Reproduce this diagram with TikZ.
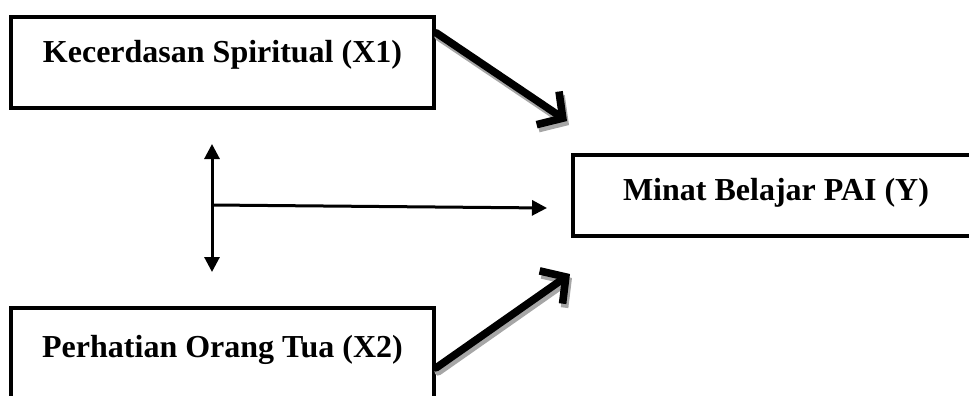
\documentclass[tikz,border=0pt]{standalone}
\usepackage{fontspec}
\setmainfont{Liberation Serif}
\usetikzlibrary{arrows.meta}
\tikzset{
  varbox/.style={draw, line width=2.2pt, inner xsep=0pt, inner ysep=0pt, anchor=base,
    font=\bfseries\fontsize{16}{19}\selectfont},
  boldarrow/.style={line width=3.8pt, line cap=round, line join=round,
    -{Straight Barb[length=9pt,width=20pt]}},
  shadowarrow/.style={boldarrow, draw=black!35},
  linkarrow/.style={line width=1.5pt, -{Triangle[length=7.5pt,width=7.5pt]}},
}

\begin{document}
\begin{tikzpicture}[x=0.5pt, y=-0.5pt]
        \useasboundingbox (0,0) rectangle (969,396);
        \clip (0,0) rectangle (969,396);
        \node[varbox, minimum width=211.5pt, text height=22.5pt, text depth=23pt] (kec) at (222.5,62) {Kecerdasan Spiritual (X1)} ; %
        \node[varbox, minimum width=203pt, text height=22.5pt, text depth=18pt] (minat) at (776,200) {Minat Belajar PAI (Y)} ; %
        \node[varbox, minimum width=211.5pt, text height=24.5pt, text depth=32pt] (ortu) at (222.5,357) {Perhatian Orang Tua (X2)} ; %
        \coordinate (tipa) at (567,121) ; %
        \coordinate (tipb) at (570,274) ; %
        \coordinate (vtop) at (212,144) ; %
        \coordinate (vbot) at (212,272) ; %
        \coordinate (hbeg) at (212,205) ; %
        \coordinate (hend) at (547,208) ; %
        \draw[shadowarrow] ([shift={(2,4)}]kec.north east) ++(0,18) -- ([shift={(2,4)}]tipa) ; %
        \draw[boldarrow] ([yshift=-9pt]kec.north east) -- (tipa) ; %
        \draw[shadowarrow] ([shift={(2,4)}]ortu.north east) ++(0,62) -- ([shift={(2,4)}]tipb) ; %
        \draw[boldarrow] ([yshift=-31pt]ortu.north east) -- (tipb) ; %
        \draw[linkarrow, {Triangle[length=7.5pt,width=7.5pt]}-{Triangle[length=7.5pt,width=7.5pt]}] (vtop) -- (vbot) ; %
        \draw[linkarrow] (hbeg) -- (hend) ; %
\end{tikzpicture}
\end{document}
